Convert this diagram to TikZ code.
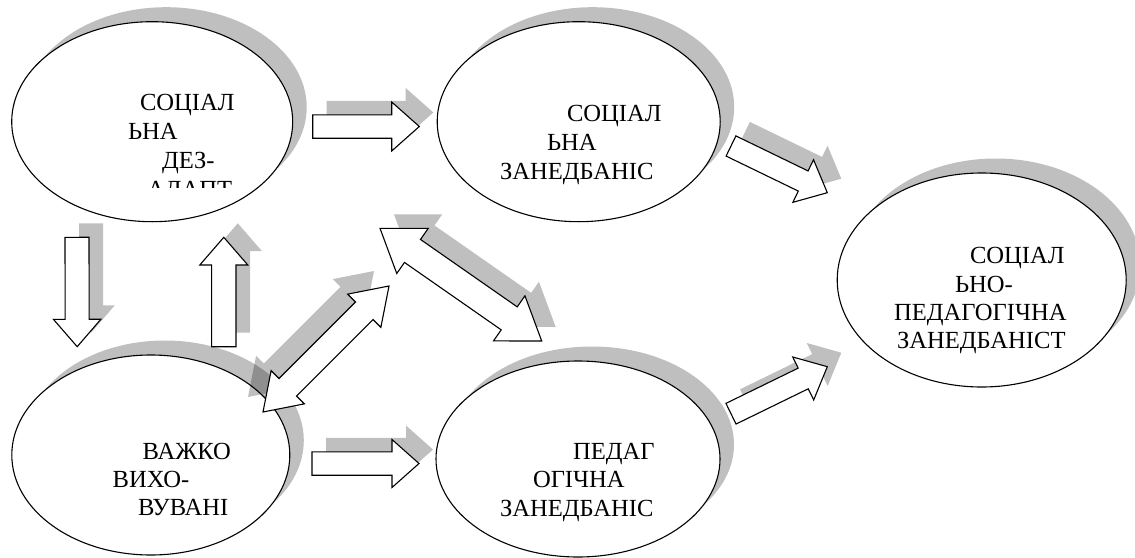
\documentclass[tikz,border=0pt]{standalone}
\usepackage{fontspec}
\setmainfont{Liberation Serif}
\usetikzlibrary{shapes.geometric,calc}
\tikzset{
  ell/.style={ellipse, draw=black, line width=1.1pt, fill=white, inner sep=0pt, outer sep=0pt,
    preaction={fill=black, fill opacity=0.25, draw=none, transform canvas={shift={(14pt,14.5pt)}}}},
  lbl/.style={anchor=base west, inner sep=0pt, outer sep=0pt, font=\fontsize{24.6}{28.5}\selectfont},
  blk/.style={draw=black, line width=1.1pt, fill=white, line join=miter},
  shNE/.style={preaction={fill=black, fill opacity=0.25, draw=none, transform canvas={shift={(14pt,14pt)}}}},
  shNW/.style={preaction={fill=black, fill opacity=0.25, draw=none, transform canvas={shift={(-15pt,15pt)}}}},
}
% block arrow: #1 style, #2 tail, #3 tip, #4 half body width, #5 half head width, #6 head length
\newcommand\blkarrow[6]{%
  \coordinate (hb) at ($(#3)!#6!(#2)$);
  \path[blk,#1] ($(#2)!#4!90:(#3)$) -- ($(hb)!#4!90:(#3)$) -- ($(hb)!#5!90:(#3)$) -- (#3)
    -- ($(hb)!#5!-90:(#3)$) -- ($(hb)!#4!-90:(#3)$) -- ($(#2)!#4!-90:(#3)$) -- cycle;
}
% double block arrow: #1 style, #2 tip A, #3 tip B, #4 half body width, #5 half head width, #6 head length
\newcommand\dblarrow[6]{%
  \coordinate (ha) at ($(#2)!#6!(#3)$);
  \coordinate (hc) at ($(#3)!#6!(#2)$);
  \path[blk,#1] (#2) -- ($(ha)!#5!90:(#3)$) -- ($(ha)!#4!90:(#3)$) -- ($(hc)!#4!-90:(#2)$)
    -- ($(hc)!#5!-90:(#2)$) -- (#3) -- ($(hc)!#5!90:(#2)$) -- ($(hc)!#4!90:(#2)$)
    -- ($(ha)!#4!-90:(#3)$) -- ($(ha)!#5!-90:(#3)$) -- cycle;
}
\begin{document}
\begin{tikzpicture}[x=1pt,y=-1pt]
\useasboundingbox[fill=white] (0,0) rectangle (1135,557);

% ellipses
\node[ell, minimum width=281pt, minimum height=200pt] (e1) at (152.2,121.7) {};
\node[ell, minimum width=283pt, minimum height=200pt] (e2) at (578.7,121.7) {};
\node[ell, minimum width=289pt, minimum height=214pt] (e3) at (981.7,280) {};
\node[ell, minimum width=278pt, minimum height=200pt] (e4) at (150.8,455) {};
\node[ell, minimum width=284pt, minimum height=196pt] (e5) at (578,459) {};

% texts
\node[lbl] (t11) at (140,110) {СОЦІАЛ};
\node[lbl] (t12) at (128,139) {ЬНА};
\node[lbl] (t13) at (162,168) {ДЕЗ-};
\begin{scope}
  \clip (100,150) rectangle (260,187);
  \node[lbl] (t14) at (147,197) {АДАПТ};
\end{scope}

\node[lbl] (t21) at (567,121) {СОЦІАЛ};
\node[lbl] (t22) at (547,150) {ЬНА};
\node[lbl] (t23) at (500,179) {ЗАНЕДБАНІС};

\node[lbl] (t31) at (970,263) {СОЦІАЛ};
\node[lbl] (t32) at (955,292) {ЬНО-};
\node[lbl] (t33) at (894,320) {ПЕДАГОГІЧНА};
\node[lbl] (t34) at (897,348) {ЗАНЕДБАНІСТ};

\node[lbl] (t41) at (142.7,459) {ВАЖКО};
\node[lbl] (t42) at (112.7,487) {ВИХО-};
\node[lbl] (t43) at (138,515) {ВУВАНІ};

\node[lbl] (t51) at (573,459) {ПЕДАГ};
\node[lbl] (t52) at (533,487) {ОГІЧНА};
\node[lbl] (t53) at (500,516) {ЗАНЕДБАНІС};

% arrow end points
\coordinate (a1t) at (312.7,126.5);  \coordinate (a1e) at (419.3,126.5);
\coordinate (a2t) at (312,463.5);    \coordinate (a2e) at (419,463.5);
\coordinate (a3t) at (77,237.3);     \coordinate (a3e) at (77.2,346.7);
\coordinate (a4t) at (223.8,346.7);  \coordinate (a4e) at (223.8,237.3);
\coordinate (a5t) at (731,146);      \coordinate (a5e) at (827.3,192.7);
\coordinate (a6t) at (731,413.7);    \coordinate (a6e) at (827.3,366.7);
\coordinate (dAa) at (263,412);      \coordinate (dAb) at (389,286);
\coordinate (dBa) at (380,228.3);    \coordinate (dBb) at (541.7,341);

% arrows
\blkarrow{shNE}{a1t}{a1e}{11.7pt}{24.5pt}{27.6pt}
\blkarrow{shNE}{a2t}{a2e}{11.7pt}{24pt}{27pt}
\blkarrow{shNE}{a3t}{a3e}{12pt}{23.7pt}{27.4pt}
\blkarrow{shNE}{a4t}{a4e}{12.2pt}{24pt}{27.7pt}
\blkarrow{shNE}{a5t}{a5e}{11.2pt}{23.7pt}{26.8pt}
\blkarrow{shNE}{a6t}{a6e}{11.5pt}{23.9pt}{26.8pt}
\dblarrow{shNW}{dAa}{dAb}{12.4pt}{23.5pt}{35pt}
\dblarrow{shNE}{dBa}{dBb}{14pt}{27.5pt}{39.6pt}
\end{tikzpicture}
\end{document}
